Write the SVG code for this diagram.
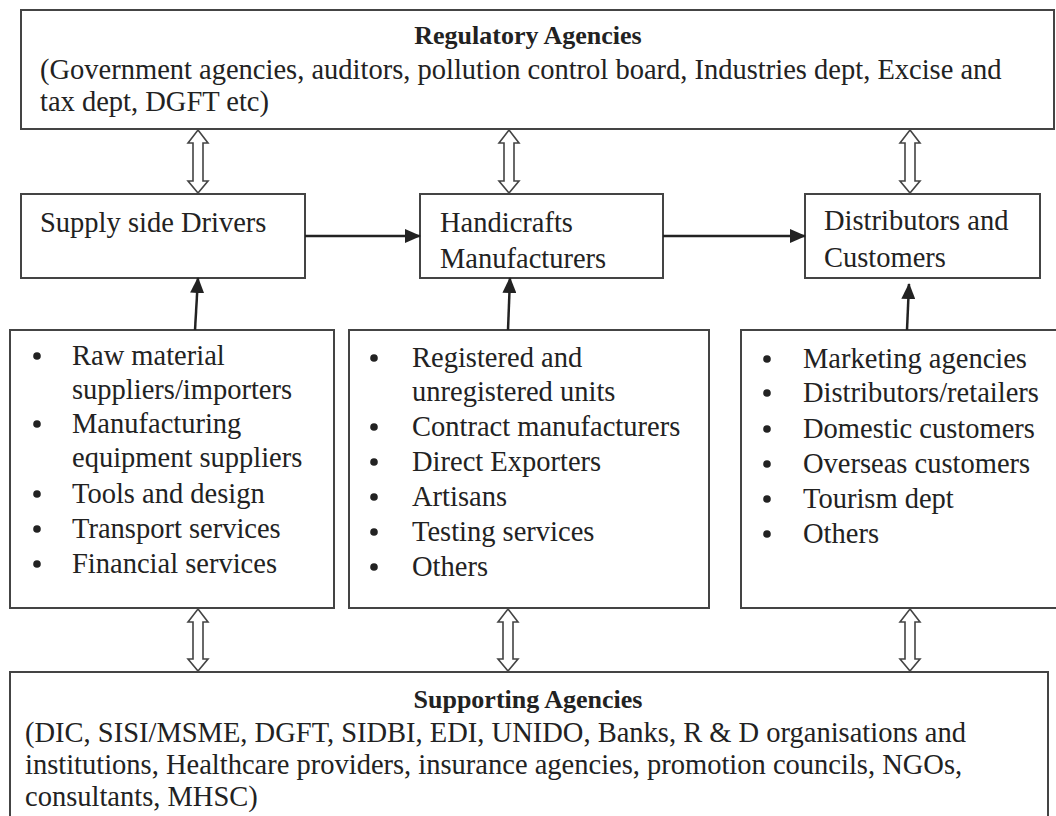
<svg xmlns="http://www.w3.org/2000/svg" width="1056" height="816" viewBox="0 0 1056 816">
<style>
.box{fill:#fff;stroke:#444;stroke-width:2}
.t{font-family:"Liberation Serif","Times New Roman",serif;font-size:28.5px;fill:#222}
.b{font-weight:bold;font-size:26px}
.conn{stroke:#222;stroke-width:2.5;fill:none}
.dbl{fill:#fff;stroke:#444;stroke-width:1.6}
</style>
<defs>
<marker id="ah" markerUnits="userSpaceOnUse" markerWidth="16" markerHeight="14" refX="15" refY="7" orient="auto">
<path d="M0,0 L16,7 L0,14 Z" fill="#222"/>
</marker>
</defs>
<rect width="1056" height="816" fill="#fff"/>

<g id="regulatory">
<rect class="box" x="21" y="10" width="1033" height="119"/>
<text class="t b" x="528" y="44" text-anchor="middle">Regulatory Agencies</text>
<text class="t" x="40" y="79">(Government agencies, auditors, pollution control board, Industries dept, Excise and</text>
<text class="t" x="40" y="111">tax dept, DGFT etc)</text>
</g>

<g id="supply">
<rect class="box" x="21" y="194" width="284" height="84"/>
<text class="t" x="40" y="232">Supply side Drivers</text>
</g>

<g id="manufacturers">
<rect class="box" x="420" y="194" width="243" height="84"/>
<text class="t" x="440" y="232">Handicrafts</text>
<text class="t" x="440" y="268">Manufacturers</text>
</g>

<g id="distributors">
<rect class="box" x="805" y="194" width="235" height="84"/>
<text class="t" x="824" y="230">Distributors and</text>
<text class="t" x="824" y="267">Customers</text>
</g>

<g id="supply-list">
<rect class="box" x="10" y="330" width="324" height="278"/>
<g class="t">
<circle cx="37" cy="356" r="3.8" fill="#222"/><text x="72" y="365">Raw material</text>
<text x="72" y="399">suppliers/importers</text>
<circle cx="37" cy="424" r="3.8" fill="#222"/><text x="72" y="433">Manufacturing</text>
<text x="72" y="467">equipment suppliers</text>
<circle cx="37" cy="494" r="3.8" fill="#222"/><text x="72" y="503">Tools and design</text>
<circle cx="37" cy="529" r="3.8" fill="#222"/><text x="72" y="538">Transport services</text>
<circle cx="37" cy="564" r="3.8" fill="#222"/><text x="72" y="573">Financial services</text>
</g>
</g>

<g id="manufacturer-list">
<rect class="box" x="349" y="330" width="360" height="278"/>
<g class="t">
<circle cx="374" cy="358" r="3.8" fill="#222"/><text x="412" y="367">Registered and</text>
<text x="412" y="401">unregistered units</text>
<circle cx="374" cy="427" r="3.8" fill="#222"/><text x="412" y="436">Contract manufacturers</text>
<circle cx="374" cy="462" r="3.8" fill="#222"/><text x="412" y="471">Direct Exporters</text>
<circle cx="374" cy="497" r="3.8" fill="#222"/><text x="412" y="506">Artisans</text>
<circle cx="374" cy="532" r="3.8" fill="#222"/><text x="412" y="541">Testing services</text>
<circle cx="374" cy="567" r="3.8" fill="#222"/><text x="412" y="576">Others</text>
</g>
</g>

<g id="distributor-list">
<rect class="box" x="741" y="330" width="320" height="278"/>
<g class="t">
<circle cx="767" cy="359" r="3.8" fill="#222"/><text x="803" y="368">Marketing agencies</text>
<circle cx="767" cy="393" r="3.8" fill="#222"/><text x="803" y="402">Distributors/retailers</text>
<circle cx="767" cy="429" r="3.8" fill="#222"/><text x="803" y="438">Domestic customers</text>
<circle cx="767" cy="464" r="3.8" fill="#222"/><text x="803" y="473">Overseas customers</text>
<circle cx="767" cy="499" r="3.8" fill="#222"/><text x="803" y="508">Tourism dept</text>
<circle cx="767" cy="534" r="3.8" fill="#222"/><text x="803" y="543">Others</text>
</g>
</g>

<g id="supporting">
<rect class="box" x="10" y="672" width="1038" height="160"/>
<text class="t b" x="528" y="708" text-anchor="middle">Supporting Agencies</text>
<text class="t" x="25" y="742">(DIC, SISI/MSME, DGFT, SIDBI, EDI, UNIDO, Banks, R &amp; D organisations and</text>
<text class="t" x="25" y="774">institutions, Healthcare providers, insurance agencies, promotion councils, NGOs,</text>
<text class="t" x="25" y="806">consultants, MHSC)</text>
</g>

<g id="connectors">
<line class="conn" x1="305" y1="236" x2="420" y2="236" marker-end="url(#ah)"/>
<line class="conn" x1="663" y1="236" x2="805" y2="236" marker-end="url(#ah)"/>
<line class="conn" x1="195" y1="330" x2="198" y2="278" marker-end="url(#ah)"/>
<line class="conn" x1="508" y1="330" x2="510" y2="278" marker-end="url(#ah)"/>
<line class="conn" x1="907" y1="330" x2="909" y2="284" marker-end="url(#ah)"/>
<path class="dbl" d="M198,130 L208,143 L203,143 L203,181 L208,181 L198,193 L188,181 L193,181 L193,143 L188,143 Z"/>
<path class="dbl" d="M509,130 L519,143 L514,143 L514,181 L519,181 L509,193 L499,181 L504,181 L504,143 L499,143 Z"/>
<path class="dbl" d="M910,130 L920,143 L915,143 L915,181 L920,181 L910,193 L900,181 L905,181 L905,143 L900,143 Z"/>
<path class="dbl" d="M198,609 L208,622 L203,622 L203,659 L208,659 L198,671 L188,659 L193,659 L193,622 L188,622 Z"/>
<path class="dbl" d="M508,609 L518,622 L513,622 L513,659 L518,659 L508,671 L498,659 L503,659 L503,622 L498,622 Z"/>
<path class="dbl" d="M910,609 L920,622 L915,622 L915,659 L920,659 L910,671 L900,659 L905,659 L905,622 L900,622 Z"/>
</g>
</svg>
